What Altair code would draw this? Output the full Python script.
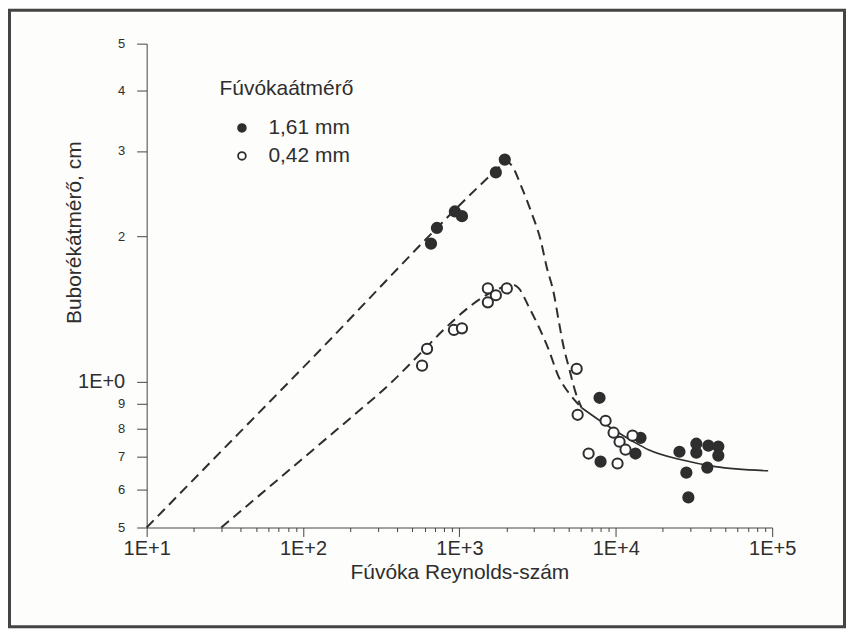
import altair as alt
import pandas as pd

# ---- data ----
filled_label = "1,61 mm"
open_label = "0,42 mm"

filled_x = [658, 718, 935, 1038, 1710, 1950, 7870, 14390, 13360, 7990,
            25530, 32740, 32740, 39080, 45260, 45260, 38470, 28260, 29110]
filled_y = [1.93, 2.08, 2.25, 2.20, 2.71, 2.88, 0.927, 0.766, 0.711, 0.684,
            0.717, 0.745, 0.714, 0.738, 0.735, 0.704, 0.665, 0.649, 0.577]

open_x = [577, 621, 922, 1038, 1520, 1710, 2010, 1520, 5623, 5702, 8604,
          9680, 10570, 12790, 11540, 6700, 10260]
open_y = [1.08, 1.17, 1.28, 1.29, 1.46, 1.51, 1.56, 1.56, 1.064, 0.855,
          0.831, 0.785, 0.752, 0.774, 0.724, 0.711, 0.678]

upper_x = [10, 100, 1800, 1980, 2160, 2505, 2900, 3310, 3610, 4010, 4310,
           4640, 5000, 5540, 6040]
upper_y = [0.5, 1.07, 2.78, 2.86, 2.80, 2.52, 2.23, 1.96, 1.73, 1.525, 1.34,
           1.18, 1.074, 0.949, 0.884]

lower_x = [30, 300, 1900, 2150, 2400, 2775, 3214, 3724, 4313, 5000, 5785, 6040]
lower_y = [0.5, 0.94, 1.57, 1.59, 1.56, 1.43, 1.30, 1.165, 1.024, 0.949,
           0.897, 0.884]

fit_x = [6040, 7760, 10420, 13360, 16180, 26270, 43290, 94260]
fit_y = [0.884, 0.835, 0.785, 0.748, 0.724, 0.690, 0.668, 0.655]

x_tick_values = [10, 20, 30, 40, 50, 60, 70, 80, 90,
                 100, 200, 300, 400, 500, 600, 700, 800, 900,
                 1000, 2000, 3000, 4000, 5000, 6000, 7000, 8000, 9000,
                 10000, 20000, 30000, 40000, 50000, 60000, 70000, 80000, 90000,
                 100000]
x_major = [10, 100, 1000, 10000, 100000]
y_tick_values = [0.5, 0.6, 0.7, 0.8, 0.9, 1, 2, 3, 4, 5]

x_title = "Fúvóka Reynolds-szám"
y_title = "Buborékátmérő, cm"
legend_title = "Fúvókaátmérő"

# ---- tables ----
pts = pd.DataFrame({
    "re": filled_x + open_x,
    "d": filled_y + open_y,
    "nozzle": [filled_label] * len(filled_x) + [open_label] * len(open_x),
})
dashed = pd.DataFrame({
    "re": upper_x + lower_x,
    "d": upper_y + lower_y,
    "curve": ["upper"] * len(upper_x) + ["lower"] * len(lower_x),
})
solid = pd.DataFrame({"re": fit_x, "d": fit_y})

FONT = "Liberation Sans"
INK = "#2e2e2e"

major_test = "indexof([" + ",".join(str(v) for v in x_major) + "], datum.value) >= 0"

x_scale = alt.Scale(type="log", domain=[10, 100000], nice=False)
y_scale = alt.Scale(type="log", domain=[0.5, 5], nice=False)

x_axis = alt.Axis(
    values=x_tick_values,
    labelExpr=f"{major_test} ? '1E+' + round(log(datum.value)/LN10) : ''",
    tickSize={"condition": {"test": major_test, "value": 9}, "value": 4},
    grid=False, domainColor="#444", tickColor="#444",
    labelFont=FONT, labelFontSize=20, labelColor=INK, labelPadding=2,
    labelFlush=False, labelOverlap=False,
    title=x_title, titleFont=FONT, titleFontSize=21, titleFontWeight="normal",
    titleColor=INK, titlePadding=3,
)
y_axis = alt.Axis(
    values=y_tick_values,
    labelExpr="datum.value == 1 ? '1E+0' : (datum.value < 1 ? format(datum.value*10, '.0f') : format(datum.value, '.0f'))",
    labelFontSize={"condition": {"test": "datum.value == 1", "value": 20}, "value": 13},
    tickSize=10, grid=False, domainColor="#444", tickColor="#444",
    labelFont=FONT, labelColor=INK, labelPadding=12,
    labelFlush=False, labelOverlap=False,
    title=y_title, titleFont=FONT, titleFontSize=21, titleFontWeight="normal",
    titleColor=INK, titleX=-72, titleY=189, titleAlign="center",
    titleBaseline="middle",
)

x_enc = alt.X("re:Q", scale=x_scale, axis=x_axis)
y_enc = alt.Y("d:Q", scale=y_scale, axis=y_axis)

dash_layer = alt.Chart(dashed).mark_line(
    color=INK, strokeWidth=2, strokeDash=[10, 6], interpolate="monotone"
).encode(x=x_enc, y=y_enc, detail="curve:N")

solid_layer = alt.Chart(solid).mark_line(
    color=INK, strokeWidth=1.6, interpolate="monotone"
).encode(x="re:Q", y="d:Q")

point_layer = alt.Chart(pts).mark_point(
    shape="circle", size=105, stroke=INK, strokeWidth=2, opacity=1
).encode(
    x="re:Q", y="d:Q",
    fill=alt.Fill(
        "nozzle:N",
        scale=alt.Scale(domain=[filled_label, open_label], range=[INK, "#ffffff"]),
        legend=alt.Legend(
            title=legend_title, orient="none", legendX=73, legendY=34,
            titleFont=FONT, titleFontSize=21, titleFontWeight="normal",
            titleColor=INK, titlePadding=19, labelFont=FONT, labelFontSize=21,
            labelColor=INK, symbolType="circle", symbolSize=60,
            symbolStrokeColor=INK, symbolStrokeWidth=1.8, symbolOffset=12,
            labelOffset=16, rowPadding=6, padding=0,
        ),
    ),
)

frame = alt.Chart(pd.DataFrame({"k": [0]})).mark_rect(
    fill="transparent", stroke="#444", strokeWidth=3
).encode(
    x=alt.value(-137.5), x2=alt.value(699.5),
    y=alt.value(-33.5), y2=alt.value(584.5),
)

chart = alt.layer(frame, dash_layer, solid_layer, point_layer).properties(
    width=627, height=485,
    autosize=alt.AutoSizeParams(type="none"),
    padding={"left": 139, "top": 35, "right": 74, "bottom": 101},
    background="#fdfdfb",
).configure_view(stroke=None)

chart.save("out.html", embed_options={"renderer": "svg", "actions": False})
